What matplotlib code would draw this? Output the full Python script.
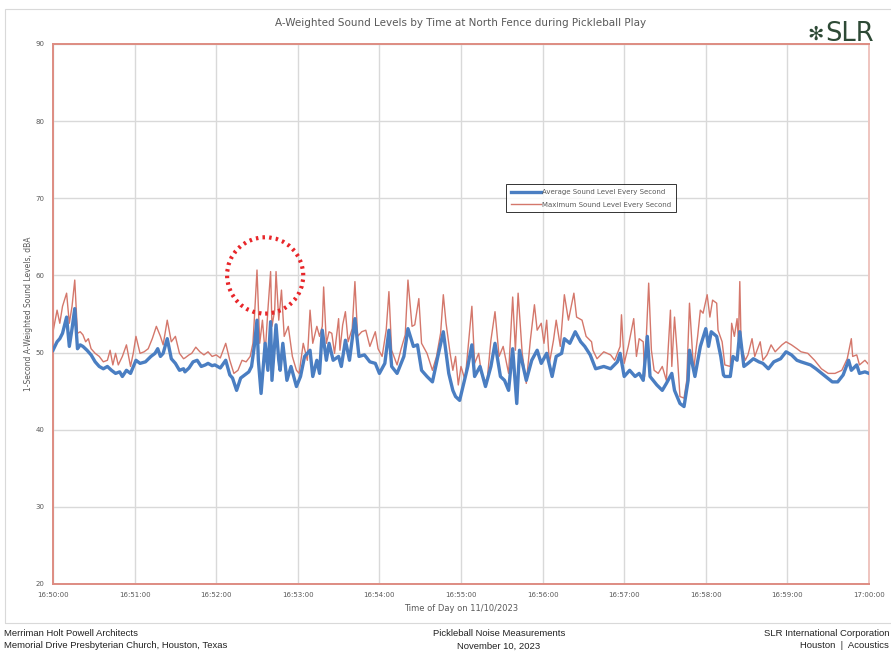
import matplotlib
matplotlib.use("Agg")
import matplotlib.pyplot as plt
from matplotlib.patches import Ellipse, Rectangle
from matplotlib.lines import Line2D

# === Data (seconds after 16:50:00) ===

max_t = [0, 3, 5, 7, 10, 12, 14, 16, 18, 20, 22, 24, 26, 28, 31, 34, 37, 40, 42, 44,
         46, 48, 51, 54, 57, 59, 61, 64, 67, 70, 73, 76, 79, 81, 84, 87, 90, 93, 96,
         97, 100, 102, 105, 108, 111, 114, 117, 120, 123, 127, 130, 133, 136, 139, 142,
         145, 147, 148, 150, 152, 154, 156, 158, 160, 161, 163, 164, 166, 168, 170, 173,
         176, 179, 181, 184, 187, 189, 191, 194, 196, 198, 199, 201, 203, 205, 207, 210,
         211, 213, 215, 217, 220, 222, 224, 227, 230, 233, 237, 239, 242, 245, 247, 249,
         253, 256, 259, 261, 264, 266, 269, 271, 275, 279, 282, 285, 287, 289, 292, 294,
         296, 298, 300, 303, 305, 308, 310, 313, 315, 319, 322, 325, 328, 331, 335, 338,
         340, 342, 345, 348, 351, 354, 356, 359, 361, 363, 365, 368, 370, 373, 376, 379,
         383, 385, 389, 392, 396, 397, 400, 405, 410, 413, 417, 418, 420, 423, 427, 429,
         431, 434, 435, 438, 440, 442, 445, 448, 451, 454, 455, 457, 459, 461, 464, 466,
         468, 471, 474, 476, 478, 481, 483, 485, 488, 489, 492, 494, 498, 499, 501, 503,
         504, 505, 506, 509, 511, 514, 516, 520, 522, 525, 528, 531, 536, 539, 543, 547,
         550, 555, 560, 565, 570, 575, 580, 584, 587, 588, 591, 593, 597, 600]
max_db = [52.7, 55.5, 53.8, 56.0, 57.7, 53.8, 56.0, 59.4, 52.5, 52.7, 52.3, 51.4, 51.8,
          50.5, 49.9, 49.5, 48.8, 49.0, 50.3, 48.4, 49.9, 48.4, 49.5, 51.0, 48.2, 49.9,
          52.1, 49.9, 50.1, 50.5, 51.8, 53.4, 52.1, 51.0, 54.2, 51.4, 52.1, 49.9, 49.2,
          49.3, 49.7, 49.9, 50.7, 50.1, 49.7, 50.1, 49.5, 49.7, 49.3, 51.2, 49.0, 47.3,
          47.7, 49.0, 48.8, 49.5, 51.2, 54.2, 60.7, 51.2, 54.2, 49.9, 55.5, 60.5, 53.4,
          55.5, 60.5, 54.2, 58.1, 52.1, 53.4, 49.5, 47.7, 47.3, 51.2, 49.0, 55.5, 51.2,
          53.4, 52.1, 53.4, 58.5, 51.2, 52.7, 52.5, 49.9, 54.4, 50.3, 53.6, 55.3, 51.4,
          53.1, 59.2, 52.1, 52.7, 52.9, 50.8, 52.7, 50.5, 49.5, 52.9, 57.9, 50.3, 48.4,
          50.5, 52.3, 59.4, 53.4, 53.6, 57.0, 51.2, 49.9, 47.7, 49.5, 52.5, 57.5, 53.8,
          49.9, 47.7, 49.5, 45.8, 48.2, 46.4, 50.3, 56.0, 48.6, 49.9, 47.3, 46.0, 51.6,
          55.3, 49.5, 50.8, 47.3, 57.2, 50.3, 57.7, 49.9, 46.0, 51.6, 56.2, 52.9, 53.8,
          51.2, 54.2, 48.6, 51.6, 54.2, 50.8, 57.5, 54.2, 57.7, 54.6, 54.2, 52.1, 51.4,
          50.3, 49.2, 50.1, 49.7, 49.0, 50.8, 54.9, 48.6, 50.8, 54.4, 49.5, 51.8, 51.4,
          46.9, 59.0, 50.3, 47.7, 47.3, 48.2, 46.4, 55.5, 48.2, 54.6, 49.9, 44.3, 44.1,
          46.4, 56.4, 47.7, 52.1, 55.5, 55.1, 57.5, 54.6, 56.8, 56.4, 52.9, 51.4, 48.4,
          48.2, 53.8, 52.1, 54.4, 51.6, 59.2, 50.8, 49.0, 49.7, 51.8, 49.5, 51.4, 49.0,
          49.7, 51.0, 50.1, 51.0, 51.4, 51.0, 50.5, 50.1, 49.9, 49.0, 47.9, 47.3, 47.3,
          47.7, 49.2, 51.8, 49.5, 49.7, 48.4, 49.0, 48.4]

avg_t = [0, 3, 5, 7, 10, 12, 14, 16, 18, 20, 22, 25, 28, 31, 34, 37, 40, 43, 46, 49,
         51, 54, 57, 61, 64, 68, 72, 75, 77, 79, 81, 84, 87, 90, 93, 96, 97, 100, 103,
         106, 109, 112, 114, 117, 119, 123, 127, 130, 132, 135, 138, 141, 144, 146, 148,
         150, 151, 153, 155, 156, 158, 160, 161, 164, 166, 167, 169, 172, 175, 179, 182,
         185, 189, 191, 194, 196, 198, 201, 203, 206, 210, 212, 215, 218, 222, 225, 229,
         233, 237, 240, 244, 247, 249, 253, 258, 261, 265, 268, 271, 275, 279, 283, 287,
         291, 294, 296, 299, 302, 305, 308, 310, 314, 318, 322, 325, 329, 332, 335, 338,
         341, 343, 348, 352, 356, 359, 363, 367, 370, 374, 376, 380, 384, 388, 391, 395,
         399, 405, 410, 415, 417, 420, 424, 428, 431, 434, 437, 439, 444, 448, 451, 455,
         457, 461, 464, 467, 468, 472, 476, 480, 482, 484, 488, 491, 493, 494, 498, 500,
         503, 505, 508, 511, 515, 519, 522, 526, 530, 535, 539, 543, 547, 550, 557, 561,
         568, 573, 577, 581, 585, 587, 591, 593, 597, 600]
avg_db = [50.3, 51.4, 51.8, 52.5, 54.6, 50.8, 53.1, 55.7, 50.5, 51.0, 50.8, 50.3, 49.7,
          48.8, 48.2, 47.9, 48.2, 47.7, 47.3, 47.5, 46.9, 47.7, 47.3, 49.0, 48.6, 48.8,
          49.5, 49.9, 50.5, 49.5, 49.9, 51.8, 49.2, 48.6, 47.7, 47.9, 47.5, 48.0, 48.8,
          49.0, 48.2, 48.4, 48.6, 48.3, 48.4, 48.0, 49.0, 47.1, 46.7, 45.1, 46.7, 47.1,
          47.5, 48.2, 50.8, 54.2, 49.0, 44.7, 49.0, 51.2, 47.7, 54.0, 46.4, 53.6, 49.0,
          47.7, 51.2, 46.4, 48.2, 45.6, 46.9, 49.5, 50.3, 46.9, 49.0, 47.3, 52.9, 49.0,
          51.2, 49.0, 49.5, 48.2, 51.6, 49.0, 54.4, 49.5, 49.7, 48.8, 48.6, 47.3, 48.6,
          52.9, 48.2, 47.3, 49.5, 53.1, 50.8, 51.0, 47.7, 46.9, 46.2, 49.5, 52.7, 47.3,
          45.1, 44.3, 43.8, 46.0, 48.2, 51.0, 46.9, 48.2, 45.6, 48.2, 51.2, 46.9, 46.4,
          45.1, 50.5, 43.4, 50.3, 46.4, 49.0, 50.3, 48.6, 49.9, 46.9, 49.5, 49.9, 51.8,
          51.2, 52.7, 51.4, 50.8, 49.7, 47.9, 48.2, 47.9, 48.8, 49.9, 46.9, 47.7, 46.9,
          47.3, 46.4, 52.1, 46.9, 45.8, 45.1, 46.0, 47.3, 45.1, 43.4, 43.0, 46.4, 50.3,
          46.9, 50.8, 53.1, 50.8, 52.7, 52.1, 49.5, 47.1, 46.9, 46.9, 49.5, 49.0, 52.7,
          48.2, 48.6, 49.2, 48.8, 48.6, 47.9, 48.8, 49.2, 50.1, 49.7, 49.0, 48.8, 48.4,
          47.9, 46.9, 46.2, 46.2, 47.1, 49.0, 47.7, 48.4, 47.3, 47.5, 47.3]

tick_secs = [0, 60, 120, 180, 240, 300, 360, 420, 480, 540, 600]
tick_labels = ["16:50:00", "16:51:00", "16:52:00", "16:53:00", "16:54:00", "16:55:00",
               "16:56:00", "16:57:00", "16:58:00", "16:59:00", "17:00:00"]
y_ticks = [20, 30, 40, 50, 60, 70, 80, 90]

# === Plotting ===

BLUE = "#4A7EC2"
RED = "#D4776B"
SPINE = "#DE8C82"
GRID = "#D9D9D9"
TXT = "#595959"

fig = plt.figure(figsize=(8.91, 6.54), dpi=100)
ax = fig.add_axes([53 / 891, 1 - 584 / 654, 816 / 891, 540 / 654])

# outer chart frame
fig.patches.append(Rectangle((5 / 891, 1 - 623 / 654), 0.999, 614 / 654,
                             transform=fig.transFigure, fill=False,
                             edgecolor="#D9D9D9", linewidth=0.8))

ax.plot(avg_t, avg_db, color=BLUE, linewidth=2.4, zorder=3)
ax.plot(max_t, max_db, color=RED, linewidth=1.0, zorder=2)

ax.set_xlim(0, 600)
ax.set_ylim(20, 90)
ax.set_xticks(tick_secs)
ax.set_xticklabels(tick_labels)
ax.set_yticks(y_ticks)
ax.grid(True, color=GRID, linewidth=1.0)
ax.set_axisbelow(True)
ax.tick_params(axis="both", length=0, labelsize=5, labelcolor=TXT, pad=6)
for side, sp in ax.spines.items():
    sp.set_color(SPINE)
    sp.set_linewidth(1.4)
ax.spines["right"].set_color("#EFC4BF")

ax.set_xlabel("Time of Day on 11/10/2023", fontsize=6, color=TXT, labelpad=4)
ax.set_ylabel("1-Second A-Weighted Sound Levels, dBA", fontsize=5.5, color=TXT, labelpad=2)
ax.set_title("A-Weighted Sound Levels by Time at North Fence during Pickleball Play",
             fontsize=7.5, color=TXT, pad=13)

# dotted circle around the peaks
ax.add_patch(Ellipse((156, 60.0), 56, 9.9, fill=False, edgecolor="#E8262A",
                     linewidth=3, linestyle=(0, (0.6, 1.0)), zorder=5))

handles = [Line2D([], [], color=BLUE, linewidth=2.4),
           Line2D([], [], color=RED, linewidth=1.0)]
leg = ax.legend(handles, ["Average Sound Level Every Second",
                          "Maximum Sound Level Every Second"],
                loc="upper left", bbox_to_anchor=((503 - 53) / 816, (584 - 181) / 540),
                fontsize=5, frameon=True, fancybox=False, handlelength=4.2,
                handletextpad=0.2, borderpad=0.7, labelspacing=0.9)
leg.get_frame().set_edgecolor("#000000")
leg.get_frame().set_linewidth(0.7)
for t in leg.get_texts():
    t.set_color(TXT)

# logo
fig.text(824 / 891, 1 - 34 / 654, "\u273b", fontsize=14, color="#2E4A36",
         ha="right", va="center", fontweight="bold")
fig.text(825 / 891, 1 - 34 / 654, "SLR", fontsize=18.5, color="#2E4A36",
         ha="left", va="center")

# footer
foot = dict(fontsize=6.8, color="#222222", va="center", family=["Liberation Sans", "DejaVu Sans"])
fig.text(4 / 891, 1 - 634 / 654, "Merriman Holt Powell Architects", ha="left", **foot)
fig.text(4 / 891, 1 - 646 / 654, "Memorial Drive Presbyterian Church, Houston, Texas", ha="left", **foot)
fig.text(499 / 891, 1 - 634 / 654, "Pickleball Noise Measurements", ha="center", **foot)
fig.text(499 / 891, 1 - 646 / 654, "November 10, 2023", ha="center", **foot)
fig.text(889 / 891, 1 - 634 / 654, "SLR International Corporation", ha="right", **foot)
fig.text(889 / 891, 1 - 646 / 654, "Houston  |  Acoustics", ha="right", **foot)

fig.savefig("out.png", dpi=100)
